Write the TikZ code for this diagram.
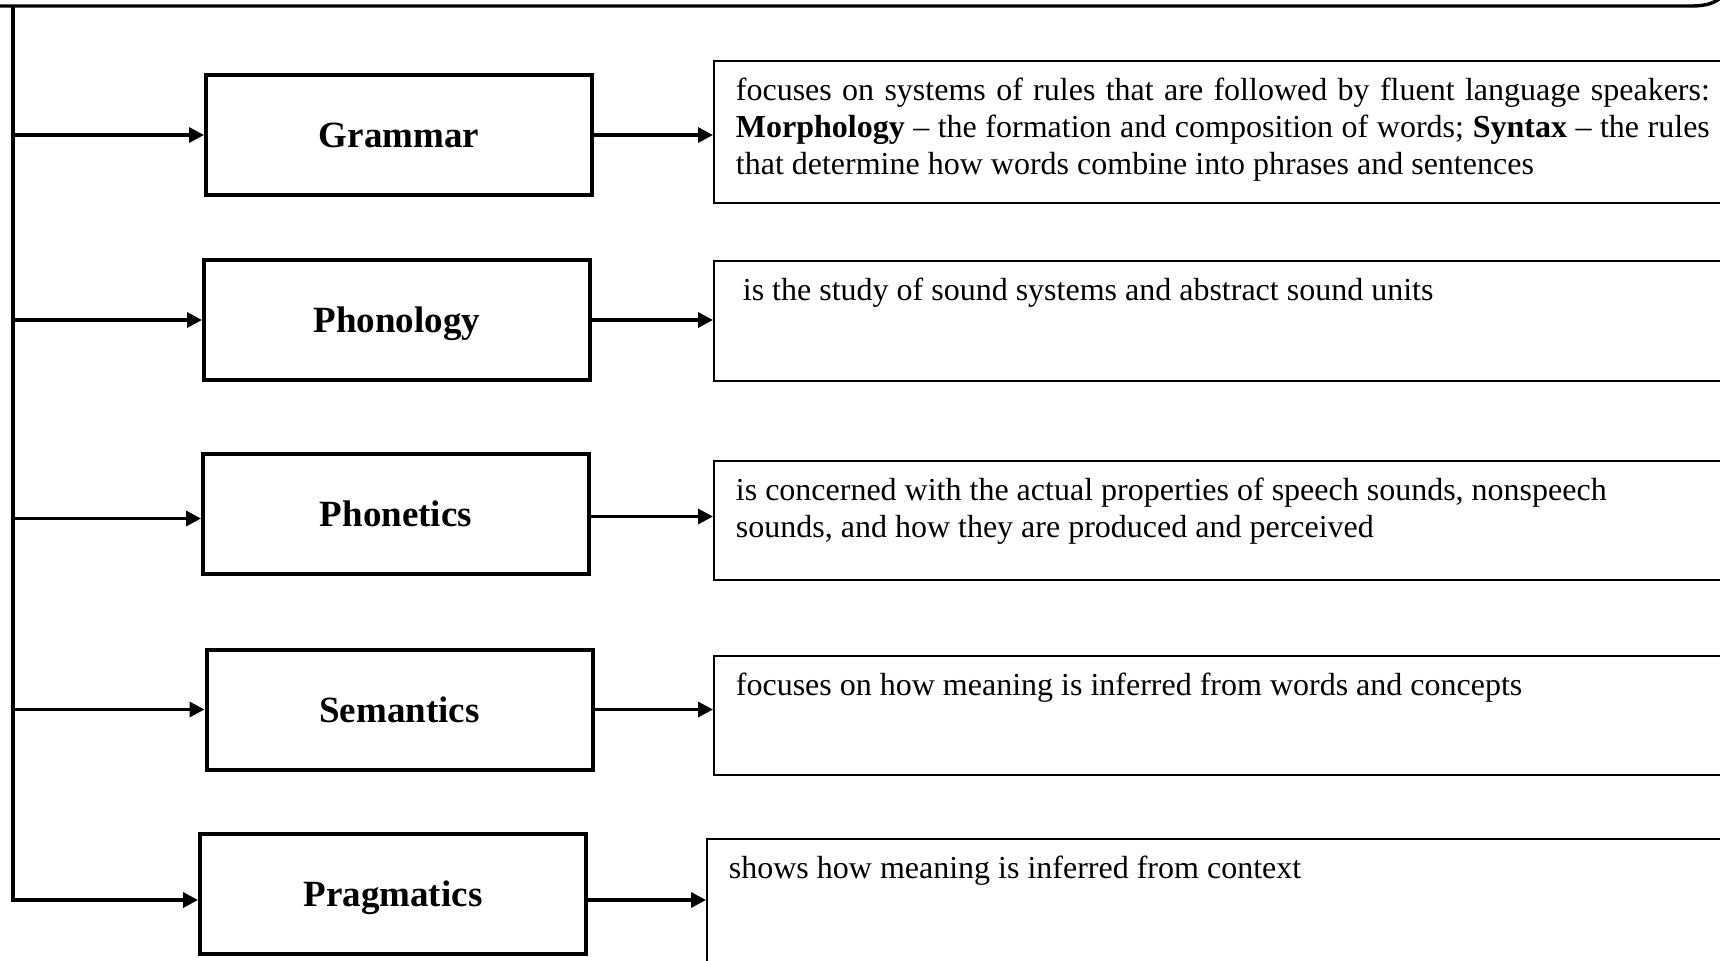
\documentclass[tikz,border=0pt]{standalone}
\usepackage{fontspec}
\setmainfont{Liberation Serif}
\usetikzlibrary{arrows.meta}
\newcommand{\desctext}[2]{\parbox[c][#1][t]{487pt}{#2}}
\begin{document}
\begin{tikzpicture}[x=0.5pt,y=-0.5pt,
  field/.style={draw,line width=2pt,minimum width=193pt,minimum height=60pt,text depth=0pt,
    font=\bfseries\fontsize{18.5}{22}\selectfont},
  desc/.style={draw,line width=0.9pt,anchor=north west,inner xsep=11pt,inner ysep=8.5pt,
    font=\fontsize{16}{18.5}\selectfont},
  link/.style={line width=1.7pt,-{Triangle[length=7.5pt,width=7.5pt]}}]
\path[use as bounding box] (0,0) rectangle (1720,960);
\clip (0,0) rectangle (1720,960);
\draw[line width=1.7pt] (-10,6) -- (1690,6) .. controls (1708,6) and (1715,3) .. (1724,-5);
\coordinate (trunk) at (13,6);
\node[field] (gram) at (399,135) {Grammar};
\node[field] (phon) at (397,320) {Phonology};
\node[field] (phot) at (396,513.5) {Phonetics};
\node[field] (sem) at (399.5,709.5) {Semantics};
\node[field] (prag) at (393,894) {Pragmatics};
\node[desc] (gramdesc) at (713,60) {\desctext{54pt}{focuses on systems of rules that are followed by fluent language speakers:\linebreak
  \textbf{Morphology} -- the formation and composition of words; \textbf{Syntax} -- the rules\linebreak
  that determine how words combine into phrases and sentences}};
\node[desc] (phondesc) at (713,260) {\desctext{43pt}{\hspace*{3.5pt}is the study of sound systems and abstract sound units}};
\node[desc] (photdesc) at (713,460) {\desctext{42.5pt}{is concerned with the actual properties of speech sounds, nonspeech\newline
  sounds, and how they are produced and perceived}};
\node[desc] (semdesc) at (713,655) {\desctext{42.5pt}{focuses on how meaning is inferred from words and concepts}};
\node[desc] (pragdesc) at (706,838) {\desctext{58pt}{shows how meaning is inferred from context}};
\coordinate (photin) at ([yshift=-2.5pt]phot.west);
\coordinate (photout) at ([yshift=-1.5pt]phot.east);
\coordinate (pragin) at ([yshift=-3pt]prag.west);
\coordinate (pragout) at ([yshift=-3pt]prag.east);
\draw[link] (trunk) -- (trunk |- pragin) -- (pragin);
\draw[link] (trunk |- gram.west) -- (gram.west);
\draw[link] (trunk |- phon.west) -- (phon.west);
\draw[link] (trunk |- photin) -- (photin);
\draw[link] (trunk |- sem.west) -- (sem.west);
\draw[link] (gram.east) -- (gram.east -| gramdesc.west);
\draw[link] (phon.east) -- (phon.east -| phondesc.west);
\draw[link] (photout) -- (photout -| photdesc.west);
\draw[link] (sem.east) -- (sem.east -| semdesc.west);
\draw[link] (pragout) -- (pragout -| pragdesc.west);
\end{tikzpicture}
\end{document}
